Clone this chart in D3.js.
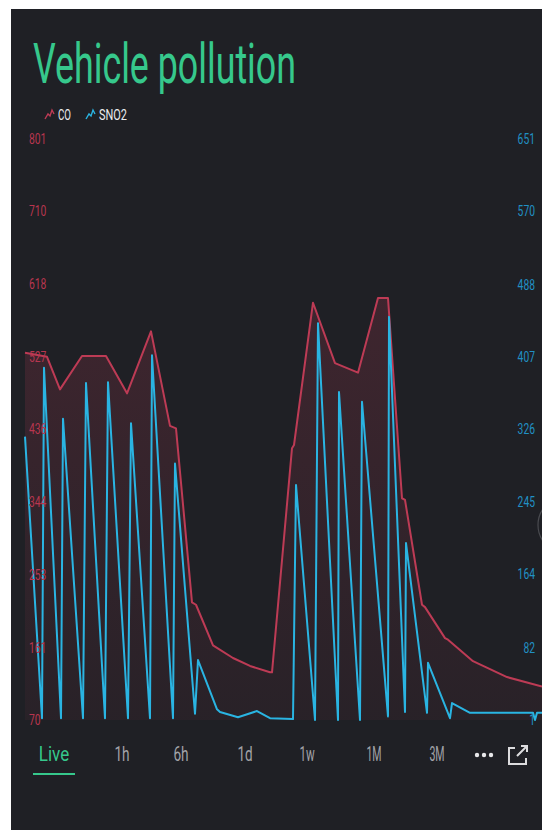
<!DOCTYPE html>
<html>
<head>
<meta charset="utf-8">
<script src="https://cdn.jsdelivr.net/npm/d3@7"></script>
<style>
    html, body { margin: 0; padding: 0; background: #fff; overflow: hidden; }
    svg { display: block; }
    text { font-family: Roboto, "DejaVu Sans", sans-serif; }
</style>
</head>
<body>
<div class="chart"></div>
<script>
// CO series (left axis) - time position, value
var coTime = [3, 25, 38, 60, 84, 105, 129, 148, 154, 170, 174, 191, 211, 228, 248, 250,
    270, 272, 291, 313, 336, 356, 366, 380, 383, 400, 403, 423, 426, 451, 485, 520];
var coValues = [532, 527, 486, 528, 528, 481, 559, 440, 437, 218, 215, 164, 148, 138, 130, 130,
    412, 416, 595, 519, 507, 601, 601, 349, 347, 215, 212, 173, 171, 144, 124, 112];

// SNO2 series (right axis)
var snTime = [3, 20, 22, 39, 41, 61, 64, 83, 86, 106, 109, 128, 130, 151, 153, 173, 176,
    195, 198, 216, 235, 248, 271, 274, 293, 296, 316, 317, 338, 340, 366, 367, 383, 384,
    405, 406, 428, 430, 448, 511, 513, 515, 520];
var snValues = [318, 3, 395, 3, 338, 3, 378, 3, 379, 3, 333, 3, 409, 3, 288, 8, 68,
    13, 10, 4, 11, 3, 2, 264, 1, 445, 1, 368, 1, 357, 5, 452, 10, 199,
    9, 65, 3, 20, 9, 9, 1, 9, 9];

var coTicks = [70, 161, 253, 344, 436, 527, 618, 710, 801];
var snTicks = [1, 82, 164, 245, 326, 407, 488, 570, 651];
var tabLabels = ['Live', '1h', '6h', '1d', '1w', '1M', '3M'];
var tabCenters = [54, 122, 181, 245, 307, 374, 437];
var seriesNames = ['CO', 'SNO2'];

var colors = {
    bg: '#1f2025',
    green: '#36c88c',
    red: '#bd3b55',
    redText: '#b8364f',
    blue: '#2ab4e2',
    blueText: '#2190c4',
    tab: '#a2a3a8'
};

var width = 542, height = 830;

var svg = d3.select('.chart')
    .append('svg')
    .attr('width', width + 60)
    .attr('height', height + 60);

svg.append('rect')
    .attr('x', 11)
    .attr('y', 9)
    .attr('width', width + 60)
    .attr('height', height + 60)
    .attr('fill', colors.bg);

// title
svg.append('text')
    .attr('x', 33)
    .attr('y', 83)
    .attr('textLength', 263)
    .attr('lengthAdjust', 'spacingAndGlyphs')
    .attr('font-size', 56)
    .attr('font-weight', 400)
    .attr('fill', colors.green)
    .text('Vehicle pollution');

// legend
var iconShape = [[0, 10], [3, 5], [5, 7], [7, 1], [9, 5]];
var iconLine = d3.line();
var legend = svg.append('g');
[{x: 45, color: colors.red}, {x: 86, color: colors.blue}].forEach(function (d, i) {
    legend.append('path')
        .attr('transform', 'translate(' + d.x + ',109)')
        .attr('d', iconLine(iconShape))
        .attr('fill', 'none')
        .attr('stroke', d.color)
        .attr('stroke-width', 1.4);
    legend.append('text')
        .attr('x', d.x + 13)
        .attr('y', 120)
        .attr('font-size', 14)
        .attr('textLength', i === 0 ? 13 : 28)
        .attr('lengthAdjust', 'spacingAndGlyphs')
        .attr('fill', '#ececee')
        .text(seriesNames[i]);
});

// scales
var x = d3.scaleLinear().domain([0, 520]).range([22, 542]);
var yCO = d3.scaleLinear().domain([70, 801]).range([720, 139]);
var ySN = d3.scaleLinear().domain([1, 651]).range([720, 139]);

var coData = coTime.map(function (t, i) { return {t: t, v: coValues[i]}; });
var snData = snTime.map(function (t, i) { return {t: t, v: snValues[i]}; });

var defs = svg.append('defs');
var grad = defs.append('linearGradient')
    .attr('id', 'coFill')
    .attr('x1', 0).attr('y1', 0).attr('x2', 0).attr('y2', 1);
grad.append('stop').attr('offset', '0%').attr('stop-color', colors.red).attr('stop-opacity', 0.2);
grad.append('stop').attr('offset', '100%').attr('stop-color', colors.red).attr('stop-opacity', 0.06);

var coArea = d3.area()
    .x(function (d) { return x(d.t); })
    .y0(yCO(70))
    .y1(function (d) { return yCO(d.v); });

var coLine = d3.line()
    .x(function (d) { return x(d.t); })
    .y(function (d) { return yCO(d.v); });

var snLine = d3.line()
    .x(function (d) { return x(d.t); })
    .y(function (d) { return ySN(d.v); });

svg.append('path')
    .datum(coData)
    .attr('d', coArea)
    .attr('fill', 'url(#coFill)');

svg.append('path')
    .datum(coData)
    .attr('d', coLine)
    .attr('fill', 'none')
    .attr('stroke', colors.red)
    .attr('stroke-width', 2)
    .attr('stroke-linejoin', 'round');

svg.append('path')
    .datum(snData)
    .attr('d', snLine)
    .attr('fill', 'none')
    .attr('stroke', colors.blue)
    .attr('stroke-width', 2)
    .attr('stroke-linejoin', 'round');

// axes (labels only)
var leftAxis = svg.append('g')
    .attr('transform', 'translate(29,0)')
    .call(d3.axisRight(yCO).tickValues(coTicks).tickSize(0).tickPadding(0));

var rightAxis = svg.append('g')
    .attr('transform', 'translate(535,0)')
    .call(d3.axisLeft(ySN).tickValues(snTicks).tickSize(0).tickPadding(0));

[[leftAxis, colors.redText], [rightAxis, colors.blueText]].forEach(function (a) {
    a[0].select('.domain').remove();
    a[0].selectAll('text')
        .attr('font-size', 14)
        .attr('font-family', 'Roboto, sans-serif')
        .attr('fill', a[1])
        .attr('textLength', function (d) { return String(d).length * 5.8; })
        .attr('lengthAdjust', 'spacingAndGlyphs');
});

// faint ring on the right edge
svg.append('circle')
    .attr('cx', 566)
    .attr('cy', 525)
    .attr('r', 28)
    .attr('fill', 'none')
    .attr('stroke', '#4a4b50')
    .attr('stroke-width', 1.2);

// time range tabs
var tabs = svg.append('g');
tabLabels.forEach(function (label, i) {
    tabs.append('text')
        .attr('x', tabCenters[i])
        .attr('y', 761)
        .attr('text-anchor', 'middle')
        .attr('font-size', 20)
        .attr('font-weight', 400)
        .attr('textLength', label.length * 7.6)
        .attr('lengthAdjust', 'spacingAndGlyphs')
        .attr('fill', i === 0 ? colors.green : colors.tab)
        .text(label);
});

tabs.append('rect')
    .attr('x', 33)
    .attr('y', 773)
    .attr('width', 42)
    .attr('height', 2)
    .attr('fill', colors.green);

[477, 484, 491].forEach(function (cx) {
    tabs.append('circle')
        .attr('cx', cx)
        .attr('cy', 755)
        .attr('r', 2.2)
        .attr('fill', '#e8e8ea');
});

// share icon
tabs.append('path')
    .attr('d', 'M515,748 H509 V764 H526 V758')
    .attr('fill', 'none')
    .attr('stroke', '#dcdcde')
    .attr('stroke-width', 2);
tabs.append('path')
    .attr('d', 'M517,756 L527,746 M521,746 H527 V752')
    .attr('fill', 'none')
    .attr('stroke', '#dcdcde')
    .attr('stroke-width', 2);
</script>
</body>
</html>
